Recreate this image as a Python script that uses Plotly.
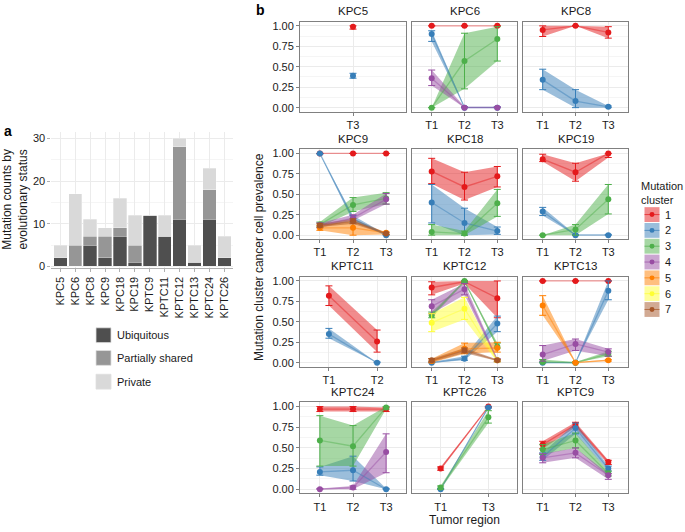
import plotly.graph_objects as go

W, H = 685, 532

# ---------------- Panel a data ----------------
SAMPLES = ["KPC5", "KPC6", "KPC8", "KPC9", "KPC18", "KPC19", "KPTC9",
           "KPTC11", "KPTC12", "KPTC13", "KPTC24", "KPTC26"]
UBIQUITOUS = [2, 0, 5, 2, 7, 1, 12, 7, 11, 1, 11, 2]
PARTIALLY_SHARED = [0, 5, 2, 5, 2, 4, 0, 0, 17, 0, 7, 0]
PRIVATE = [3, 12, 4, 2, 7, 7, 0, 5, 2, 4, 5, 5]
STATUS_LABELS = ["Ubiquitous", "Partially shared", "Private"]
COUNT_TICKS = [0, 10, 20, 30]
COUNT_MINOR = [5, 15, 25]

# ---------------- Panel b data ----------------
# each cluster: list of (mean, lower, upper) per tumor region
FACET_ORDER = ["KPC5", "KPC6", "KPC8", "KPC9", "KPC18", "KPC19",
               "KPTC11", "KPTC12", "KPTC13", "KPTC24", "KPTC26", "KPTC9"]
CLUSTERS = [1, 2, 3, 4, 5, 6, 7]
Y_TICKS = [0.0, 0.25, 0.5, 0.75, 1.0]
Y_TICK_TEXT = ["0.00", "0.25", "0.50", "0.75", "1.00"]
Y_MINOR = [0.125, 0.375, 0.625, 0.875]

KPC5_REGIONS = ["T3"]
KPC5 = {1: [(0.99, 0.96, 1.00)],
        2: [(0.39, 0.36, 0.42)]}

KPC6_REGIONS = ["T1", "T2", "T3"]
KPC6 = {1: [(1.00, 1.00, 1.00), (1.00, 1.00, 1.00), (1.00, 1.00, 1.00)],
        2: [(0.90, 0.81, 0.94), (0.00, 0.00, 0.01), (0.00, 0.00, 0.01)],
        3: [(0.00, 0.00, 0.00), (0.57, 0.23, 0.91), (0.84, 0.57, 0.99)],
        4: [(0.36, 0.27, 0.46), (0.00, 0.00, 0.01), (0.00, 0.00, 0.01)]}

KPC8_REGIONS = ["T1", "T2", "T3"]
KPC8 = {1: [(0.95, 0.87, 1.00), (1.00, 1.00, 1.00), (0.92, 0.85, 0.99)],
        2: [(0.34, 0.22, 0.47), (0.08, 0.00, 0.22), (0.01, 0.00, 0.02)]}

KPC9_REGIONS = ["T1", "T2", "T3"]
KPC9 = {1: [(1.00, 1.00, 1.00), (1.00, 1.00, 1.00), (1.00, 1.00, 1.00)],
        2: [(1.00, 0.99, 1.00), (0.20, 0.16, 0.24), (0.00, 0.00, 0.01)],
        3: [(0.13, 0.10, 0.16), (0.37, 0.29, 0.46), (0.45, 0.38, 0.52)],
        4: [(0.12, 0.09, 0.15), (0.21, 0.18, 0.25), (0.44, 0.38, 0.51)],
        5: [(0.09, 0.06, 0.12), (0.09, 0.00, 0.17), (0.03, 0.01, 0.04)],
        7: [(0.12, 0.10, 0.14), (0.17, 0.14, 0.20), (0.02, 0.01, 0.03)]}

KPC18_REGIONS = ["T1", "T2", "T3"]
KPC18 = {1: [(0.78, 0.63, 0.94), (0.59, 0.43, 0.77), (0.72, 0.59, 0.84)],
         2: [(0.40, 0.15, 0.62), (0.15, 0.00, 0.33), (0.05, 0.01, 0.10)],
         3: [(0.04, 0.00, 0.13), (0.02, 0.00, 0.05), (0.39, 0.23, 0.56)]}

KPC19_REGIONS = ["T1", "T2", "T3"]
KPC19 = {1: [(0.93, 0.90, 0.99), (0.77, 0.66, 0.88), (1.00, 0.95, 1.00)],
         2: [(0.29, 0.24, 0.34), (0.00, 0.00, 0.01), (0.00, 0.00, 0.01)],
         3: [(0.00, 0.00, 0.00), (0.07, 0.00, 0.13), (0.44, 0.26, 0.62)]}

KPTC11_REGIONS = ["T1", "T2"]
KPTC11 = {1: [(0.82, 0.70, 0.94), (0.26, 0.13, 0.40)],
          2: [(0.35, 0.30, 0.42), (0.00, 0.00, 0.01)]}

KPTC12_REGIONS = ["T1", "T2", "T3"]
KPTC12 = {1: [(0.92, 0.83, 0.99), (0.99, 0.97, 1.00), (0.79, 0.55, 1.00)],
          2: [(0.00, 0.00, 0.01), (0.05, 0.03, 0.08), (0.48, 0.38, 0.57)],
          3: [(0.58, 0.55, 0.62), (1.00, 0.98, 1.00), (0.20, 0.18, 0.24)],
          4: [(0.69, 0.60, 0.77), (0.90, 0.83, 0.97), (0.03, 0.01, 0.05)],
          5: [(0.02, 0.00, 0.05), (0.17, 0.11, 0.24), (0.18, 0.13, 0.25)],
          6: [(0.49, 0.38, 0.60), (0.66, 0.53, 0.80), (0.03, 0.01, 0.04)],
          7: [(0.03, 0.01, 0.05), (0.15, 0.12, 0.18), (0.03, 0.02, 0.04)]}

KPTC13_REGIONS = ["T1", "T2", "T3"]
KPTC13 = {1: [(1.00, 1.00, 1.00), (1.00, 1.00, 1.00), (1.00, 1.00, 1.00)],
          2: [(0.00, 0.00, 0.01), (0.00, 0.00, 0.01), (0.88, 0.77, 1.00)],
          3: [(0.01, 0.00, 0.04), (0.00, 0.00, 0.01), (0.11, 0.08, 0.14)],
          4: [(0.10, 0.02, 0.21), (0.23, 0.15, 0.29), (0.13, 0.08, 0.17)],
          5: [(0.70, 0.58, 0.82), (0.00, 0.00, 0.01), (0.03, 0.02, 0.04)]}

KPTC24_REGIONS = ["T1", "T2", "T3"]
KPTC24 = {1: [(0.97, 0.94, 1.00), (0.97, 0.94, 1.00), (0.97, 0.94, 0.99)],
          2: [(0.21, 0.17, 0.27), (0.23, 0.10, 0.40), (0.00, 0.00, 0.01)],
          3: [(0.59, 0.28, 0.89), (0.52, 0.28, 0.77), (0.99, 0.97, 1.00)],
          4: [(0.00, 0.00, 0.01), (0.02, 0.00, 0.04), (0.45, 0.20, 0.67)]}

KPTC26_REGIONS = ["T1", "T3"]
KPTC26 = {1: [(0.25, 0.23, 0.27), (1.00, 0.99, 1.00)],
          2: [(0.00, 0.00, 0.01), (0.99, 0.98, 1.00)],
          3: [(0.02, 0.00, 0.04), (0.87, 0.80, 0.95)]}

KPTC9_REGIONS = ["T1", "T2", "T3"]
KPTC9 = {1: [(0.54, 0.49, 0.58), (0.78, 0.75, 0.81), (0.33, 0.30, 0.35)],
         2: [(0.39, 0.35, 0.44), (0.74, 0.67, 0.80), (0.25, 0.22, 0.28)],
         3: [(0.48, 0.42, 0.54), (0.59, 0.50, 0.68), (0.19, 0.16, 0.22)],
         4: [(0.38, 0.32, 0.43), (0.44, 0.38, 0.50), (0.17, 0.12, 0.19)]}

FACETS = {
    "KPC5": (KPC5_REGIONS, KPC5), "KPC6": (KPC6_REGIONS, KPC6),
    "KPC8": (KPC8_REGIONS, KPC8), "KPC9": (KPC9_REGIONS, KPC9),
    "KPC18": (KPC18_REGIONS, KPC18), "KPC19": (KPC19_REGIONS, KPC19),
    "KPTC11": (KPTC11_REGIONS, KPTC11), "KPTC12": (KPTC12_REGIONS, KPTC12),
    "KPTC13": (KPTC13_REGIONS, KPTC13), "KPTC24": (KPTC24_REGIONS, KPTC24),
    "KPTC26": (KPTC26_REGIONS, KPTC26), "KPTC9": (KPTC9_REGIONS, KPTC9),
}

# ---------------- Styles ----------------
FONT = "Liberation Sans, Arial, sans-serif"
TXT = "#1a1a1a"
GRID = "#ebebeb"
GRID_MINOR = "#f5f5f5"
BORDER = "#808080"
BAR_COLORS = ["#4f4f4f", "#969696", "#d9d9d9"]
CLUSTER_RGB = {1: (228, 26, 28), 2: (55, 126, 184), 3: (77, 175, 74),
               4: (152, 78, 163), 5: (255, 127, 0), 6: (255, 255, 51),
               7: (166, 86, 40)}


def rgba(c, a):
    return f"rgba({c[0]},{c[1]},{c[2]},{a})"


def fx(px):
    return px / W


def fy(py):
    return 1 - py / H


COL_X = [(300, 406), (412, 517), (523, 628)]
ROW_Y = [(20, 111), (149, 240), (278, 369), (405, 497)]

fig = go.Figure()
layout = {}
annotations = []
shapes = []

# ---------------- Panel a ----------------
for name, vals, col in zip(STATUS_LABELS, [UBIQUITOUS, PARTIALLY_SHARED, PRIVATE], BAR_COLORS):
    fig.add_trace(go.Bar(
        x=SAMPLES, y=vals, name=name, xaxis="x", yaxis="y",
        marker=dict(color=col, line=dict(color="rgba(255,255,255,0.5)", width=0.6)),
        showlegend=False, hoverinfo="skip"))

layout["xaxis"] = dict(
    domain=[fx(51.4), fx(233.3)], anchor="y", type="category",
    categoryorder="array", categoryarray=SAMPLES, range=[-0.6, len(SAMPLES) - 0.4],
    tickangle=-90, showgrid=True, gridcolor=GRID, showline=True, linecolor="#b0b0b0",
    ticks="outside", ticklen=3, tickcolor="#b0b0b0",
    tickfont=dict(size=11, color=TXT, family=FONT), zeroline=False)
layout["yaxis"] = dict(
    domain=[fy(269.5), fy(131.5)], anchor="x", range=[-0.5, 31.5],
    tickmode="array", tickvals=COUNT_TICKS, ticktext=[str(v) for v in COUNT_TICKS],
    showgrid=True, gridcolor=GRID, zeroline=False, ticks="outside", ticklen=3,
    tickcolor="#b0b0b0", tickfont=dict(size=11, color=TXT, family=FONT),
    minor=dict(tickmode="array", tickvals=COUNT_MINOR, showgrid=True,
               gridcolor=GRID_MINOR, ticks=""))

annotations.append(dict(
    text="Mutation counts by<br>evolutionary status", textangle=-90,
    x=fx(15), y=fy(200), xref="paper", yref="paper", showarrow=False,
    font=dict(size=12, color=TXT, family=FONT), xanchor="center", yanchor="middle"))
annotations.append(dict(text="<b>a</b>", x=fx(2), y=fy(130), xref="paper", yref="paper",
                        showarrow=False, xanchor="left", yanchor="middle",
                        font=dict(size=14, color="black", family=FONT)))
annotations.append(dict(text="<b>b</b>", x=fx(254), y=fy(8), xref="paper", yref="paper",
                        showarrow=False, xanchor="left", yanchor="middle",
                        font=dict(size=14, color="black", family=FONT)))

# legend for panel a
for i, (name, col) in enumerate(zip(STATUS_LABELS, BAR_COLORS)):
    cy = [337, 360, 384][i]
    shapes.append(dict(type="rect", xref="paper", yref="paper",
                       x0=fx(96), x1=fx(111), y0=fy(cy + 7.5), y1=fy(cy - 7.5),
                       fillcolor=col, line=dict(color="#e0e0e0", width=0.8)))
    annotations.append(dict(text=name, x=fx(115), y=fy(cy), xref="paper", yref="paper",
                            showarrow=False, xanchor="left", yanchor="middle",
                            font=dict(size=11, color=TXT, family=FONT)))

# ---------------- Panel b ----------------
ribbon_traces, point_traces = [], []
for i, fname in enumerate(FACET_ORDER):
    r, c = divmod(i, 3)
    n = i + 2
    xa, ya = f"x{n}", f"y{n}"
    regions, data = FACETS[fname]
    for cl, pts in data.items():
        col = CLUSTER_RGB[cl]
        means = [p[0] for p in pts]
        lo = [p[1] for p in pts]
        hi = [p[2] for p in pts]
        if len(regions) > 1:
            ribbon_traces.append(go.Scatter(
                x=list(regions) + list(regions[::-1]), y=hi + lo[::-1],
                fill="toself", fillcolor=rgba(col, 0.5), mode="lines",
                line=dict(width=0, color=rgba(col, 0.5)), xaxis=xa, yaxis=ya,
                showlegend=False, hoverinfo="skip"))
        point_traces.append(go.Scatter(
            x=regions, y=means, mode="lines+markers", xaxis=xa, yaxis=ya,
            line=dict(color=rgba(col, 0.45), width=1.3),
            marker=dict(color=rgba(col, 1), size=6),
            error_y=dict(type="data", symmetric=False,
                         array=[h - m for h, m in zip(hi, means)],
                         arrayminus=[m - l for m, l in zip(means, lo)],
                         color=rgba(col, 1), thickness=1, width=3.5),
            showlegend=False, hoverinfo="skip"))

    x0, x1 = COL_X[c]
    y0, y1 = ROW_Y[r]
    layout[f"xaxis{n}"] = dict(
        domain=[fx(x0), fx(x1)], anchor=ya, type="category",
        categoryorder="array", categoryarray=regions, range=[-0.6, len(regions) - 0.4],
        showline=True, mirror=True, linecolor=BORDER, linewidth=1,
        ticks="outside", ticklen=3, tickcolor=BORDER,
        showgrid=True, gridcolor=GRID, zeroline=False,
        tickfont=dict(size=11, color=TXT, family=FONT))
    layout[f"yaxis{n}"] = dict(
        domain=[fy(y1), fy(y0)], anchor=xa, range=[-0.05, 1.05],
        tickmode="array", tickvals=Y_TICKS, ticktext=Y_TICK_TEXT,
        showticklabels=(c == 0), ticks="outside" if c == 0 else "",
        ticklen=3, tickcolor=BORDER,
        showline=True, mirror=True, linecolor=BORDER, linewidth=1,
        showgrid=True, gridcolor=GRID, zeroline=False,
        tickfont=dict(size=11, color=TXT, family=FONT),
        minor=dict(tickmode="array", tickvals=Y_MINOR, showgrid=True,
                   gridcolor=GRID_MINOR, ticks=""))
    annotations.append(dict(text=fname, x=fx((x0 + x1) / 2), y=fy(y0 - 2.5),
                            xref="paper", yref="paper", showarrow=False,
                            xanchor="center", yanchor="bottom",
                            font=dict(size=11.5, color=TXT, family=FONT)))

for t in ribbon_traces:
    fig.add_trace(t)
for t in point_traces:
    fig.add_trace(t)

annotations.append(dict(text="Mutation cluster cancer cell prevalence", textangle=-90,
                        x=fx(259), y=fy(258), xref="paper", yref="paper",
                        showarrow=False, xanchor="center", yanchor="middle",
                        font=dict(size=12, color=TXT, family=FONT)))
annotations.append(dict(text="Tumor region", x=fx(464), y=fy(524),
                        xref="paper", yref="paper", showarrow=False,
                        xanchor="center", yanchor="middle",
                        font=dict(size=12, color=TXT, family=FONT)))

# legend for clusters
annotations.append(dict(text="Mutation<br>cluster", x=fx(639), y=fy(193),
                        xref="paper", yref="paper", showarrow=False, align="left",
                        xanchor="left", yanchor="middle",
                        font=dict(size=11, color=TXT, family=FONT)))
for k, cl in enumerate(CLUSTERS):
    col = CLUSTER_RGB[cl]
    cy = 215 + 16 * k
    shapes.append(dict(type="rect", xref="paper", yref="paper",
                       x0=fx(644.5), x1=fx(659.5), y0=fy(cy + 7.5), y1=fy(cy - 7.5),
                       fillcolor=rgba(col, 0.5), line=dict(width=0)))
    shapes.append(dict(type="line", xref="paper", yref="paper",
                       x0=fx(644.5), x1=fx(659.5), y0=fy(cy), y1=fy(cy),
                       line=dict(color=rgba(col, 0.7), width=1)))
    shapes.append(dict(type="circle", xref="paper", yref="paper",
                       x0=fx(649.5), x1=fx(654.5), y0=fy(cy + 2.5), y1=fy(cy - 2.5),
                       fillcolor=rgba(col, 1), line=dict(width=0)))
    annotations.append(dict(text=str(cl), x=fx(663), y=fy(cy), xref="paper", yref="paper",
                            showarrow=False, xanchor="left", yanchor="middle",
                            font=dict(size=11, color=TXT, family=FONT)))

fig.update_layout(
    width=W, height=H, margin=dict(l=0, r=0, t=0, b=0),
    paper_bgcolor="white", plot_bgcolor="white",
    barmode="stack", bargap=0.1, showlegend=False,
    font=dict(family=FONT, color=TXT),
    annotations=annotations, shapes=shapes, **layout)

fig.write_html("out.html", config={"displayModeBar": False},
               post_script="document.body.style.margin='0';document.body.style.padding='0';")
